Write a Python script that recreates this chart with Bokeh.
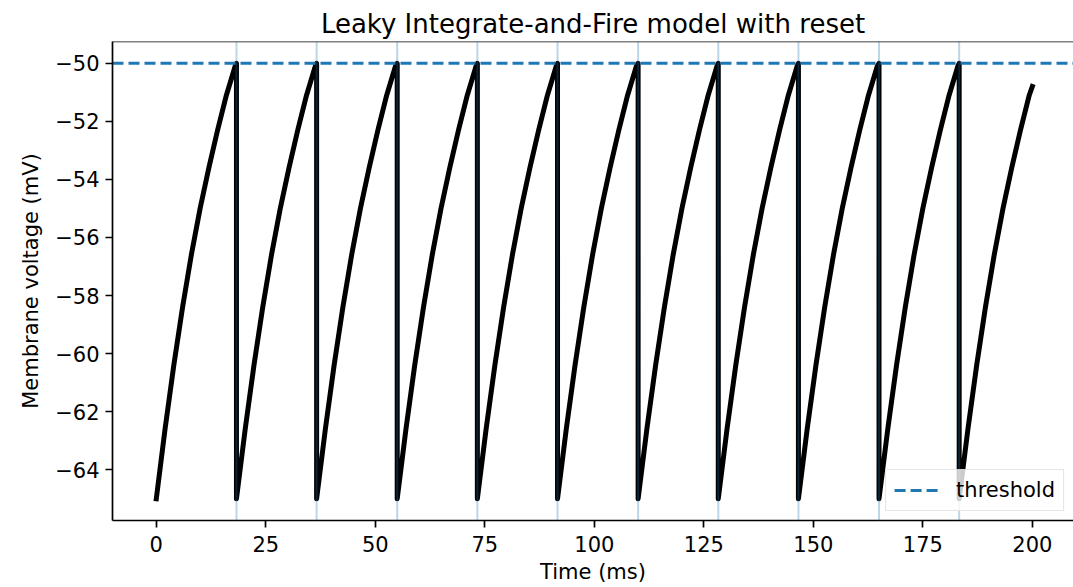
from bokeh.plotting import figure
from bokeh.models import Span, Range1d, FixedTicker
from bokeh.embed import file_html
from bokeh.resources import INLINE

# ---- data ----
title_text = "Leaky Integrate-and-Fire model with reset"
x_label = "Time (ms)"
y_label = "Membrane voltage (mV)"
legend_text = "threshold"

v_threshold = -50.0
spike_times = [18.3, 36.6, 55.0, 73.3, 91.6, 110.0, 128.3, 146.6, 165.0, 183.3]
# membrane voltage within one inter-spike cycle (time since reset, ms)
cycle_t = [0, 2, 4, 6, 8, 10, 12, 14, 16, 18]
cycle_v = [-65.0, -62.6, -60.4, -58.4, -56.6, -55.0, -53.6, -52.3, -51.1, -50.1]
end_t = 200.0
end_v = -50.8

x_ticks = [0, 25, 50, 75, 100, 125, 150, 175, 200]
x_tick_labels = ["0", "25", "50", "75", "100", "125", "150", "175", "200"]
y_ticks = [-64, -62, -60, -58, -56, -54, -52, -50]
y_tick_labels = ["\u221264", "\u221262", "\u221260", "\u221258", "\u221256", "\u221254", "\u221252", "\u221250"]

# ---- build the trace from the cycle readings ----
starts = [0.0] + spike_times
stops = spike_times + [end_t]
ts, vs = [], []
for s, e in zip(starts, stops):
    for ct, cv in zip(cycle_t, cycle_v):
        if s + ct < e - 1e-9:
            ts.append(s + ct)
            vs.append(cv)
    if e in spike_times:
        ts.append(e)
        vs.append(v_threshold)
    else:
        ts.append(end_t)
        vs.append(end_v)

FONT = "DejaVu Sans"
C0 = "#1f77b4"
FS = "21px"

x_range = Range1d(-10, 209.4)
y_range = Range1d(-65.75, -49.25)
p = figure(width=1073, height=587, output_backend="svg", toolbar_location=None,
           x_range=x_range, y_range=y_range,
           min_border_left=112, min_border_right=0, min_border_top=41, min_border_bottom=67)
p.background_fill_color = "white"
p.border_fill_color = "white"
p.outline_line_color = None
p.grid.visible = False

p.title.text = title_text
p.title.text_font = FONT
p.title.text_font_size = "26px"
p.title.text_font_style = "normal"
p.title.text_color = "black"
p.title.align = "center"
p.title.standoff = 5
p.title.text_line_height = 1.0

p.xaxis.ticker = FixedTicker(ticks=x_ticks)
p.xaxis.major_label_overrides = dict(zip(x_ticks, x_tick_labels))
p.yaxis.ticker = FixedTicker(ticks=y_ticks)
p.yaxis.major_label_overrides = dict(zip(y_ticks, y_tick_labels))
p.xaxis.axis_label = x_label
p.yaxis.axis_label = y_label
for ax in (p.xaxis, p.yaxis):
    ax.axis_label_text_font = FONT
    ax.axis_label_text_font_size = FS
    ax.axis_label_text_font_style = "normal"
    ax.axis_label_text_color = "black"
    ax.axis_label_text_line_height = 1.0
    ax.major_label_text_font = FONT
    ax.major_label_text_font_size = FS
    ax.major_label_text_color = "black"
    ax.major_label_text_line_height = 1.0
    ax.minor_tick_line_color = None
    ax.major_tick_in = 0
    ax.major_tick_out = 7
    ax.major_tick_line_width = 1.7
    ax.major_tick_line_color = "black"
    ax.axis_line_width = 1.7
    ax.axis_line_color = "black"
p.xaxis.major_label_standoff = 8
p.yaxis.major_label_standoff = 6
p.xaxis.axis_label_standoff = 5
p.yaxis.axis_label_standoff = 9

# top spine
p.add_layout(Span(location=y_range.end, dimension="width", line_color="black", line_width=1.7))

# membrane trace
p.line(ts, vs, line_color="black", line_width=5, line_join="round", line_cap="square")

# threshold line (across the whole x range) with legend entry
p.line([x_range.start, x_range.end], [v_threshold, v_threshold], line_color=C0, line_width=2.8,
       line_dash="11 5", legend_label=legend_text)

# spike markers
for st in spike_times:
    p.add_layout(Span(location=st, dimension="height", line_color=C0, line_alpha=0.3, line_width=2))

p.legend.location = "bottom_right"
p.legend.label_text_font = FONT
p.legend.label_text_font_size = FS
p.legend.label_text_color = "black"
p.legend.glyph_width = 45
p.legend.glyph_height = 20
p.legend.label_standoff = 17
p.legend.padding = 8
p.legend.margin = 9
p.legend.border_line_color = "#cccccc"
p.legend.border_line_width = 1.5
p.legend.background_fill_alpha = 0.8

open("out.html", "w").write(file_html(p, INLINE))
